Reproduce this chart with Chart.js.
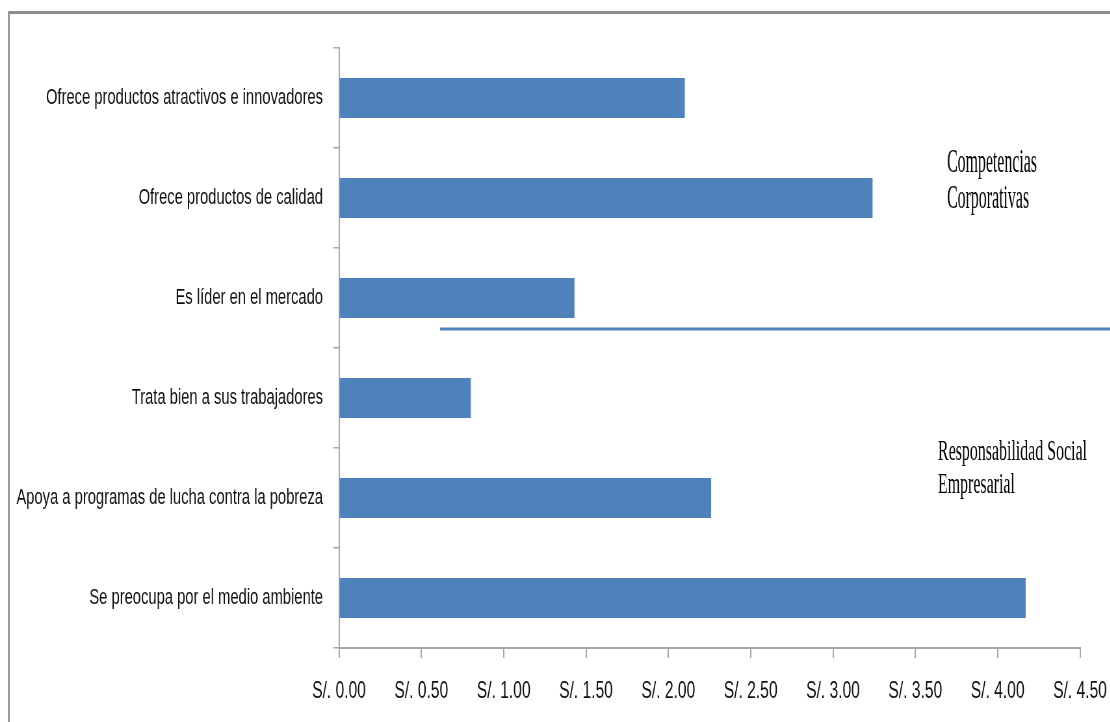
<!DOCTYPE html>
<html><head><meta charset="utf-8">
<script src="https://cdn.jsdelivr.net/npm/chart.js@4.4.1/dist/chart.umd.min.js"></script>
<style>
html,body{margin:0;padding:0;background:#fff;overflow:hidden;width:1110px;height:722px;}
#frame{position:absolute;left:8px;top:11px;width:1200px;height:800px;border-top:3px solid #8c8c8c;border-left:2px solid #9a9a9a;box-sizing:border-box;}
#wrap{position:absolute;left:0;top:0;height:722px;transform-origin:0 0;}
</style></head><body>
<div id="frame"></div>
<div id="wrap"><canvas id="c"></canvas></div>
<script>
// ---- data ----
const categories = [
  "Ofrece productos atractivos e innovadores",
  "Ofrece productos de calidad",
  "Es líder en el mercado",
  "Trata bien a sus trabajadores",
  "Apoya a programas de lucha contra la pobreza",
  "Se preocupa por el medio ambiente"
];
const values = [2.10, 3.24, 1.43, 0.80, 2.26, 4.17];
const xMin = 0, xMax = 4.5, xStep = 0.5;
const currencyPrefix = "S/. ";
const groupLabelTop = ["Competencias", "Corporativas"];
const groupLabelBottom = ["Responsabilidad Social", "Empresarial"];

// ---- layout (reference pixels) ----
const S = 0.65;                // horizontal squeeze of the whole picture
const AXIS_LEFT = 339, AXIS_RIGHT = 1080;
const EXTRA = 100;             // room on the right, clipped by the page
const W = Math.round(AXIS_RIGHT / S + EXTRA);
const wrap = document.getElementById('wrap');
wrap.style.width = W + 'px';
wrap.style.transform = 'scaleX(' + S + ')';

const annot = {
  id: 'annot',
  afterDraw(chart) {
    const ctx = chart.ctx, a = chart.chartArea;
    ctx.save();
    ctx.strokeStyle = '#4f81bd';
    ctx.lineWidth = 3;
    ctx.beginPath();
    const yLine = a.top + 281;
    ctx.moveTo(440 / S, yLine);
    ctx.lineTo(chart.width, yLine);
    ctx.stroke();
    ctx.restore();

    function block(lines, xRef, baseRef, gap, font, widthRef) {
      ctx.save();
      ctx.font = font;
      ctx.fillStyle = '#000';
      ctx.textBaseline = 'alphabetic';
      ctx.textAlign = 'left';
      const w = ctx.measureText(lines[0]).width;
      const k = (widthRef / S) / w;
      ctx.translate(xRef / S, 0);
      ctx.scale(k, 1);
      lines.forEach((t, i) => ctx.fillText(t, 0, baseRef + i * gap));
      ctx.restore();
    }
    block(groupLabelTop, 947, 172, 36, '33px "Liberation Serif"', 90);
    block(groupLabelBottom, 938, 460, 33, '29px "Liberation Serif"', 149);
  }
};

new Chart(document.getElementById('c'), {
  type: 'bar',
  data: {
    labels: categories,
    datasets: [{
      data: values,
      backgroundColor: '#4f81bd',
      borderWidth: 0,
      barPercentage: 0.5,
      categoryPercentage: 0.8
    }]
  },
  options: {
    indexAxis: 'y',
    responsive: true,
    maintainAspectRatio: false,
    animation: false,
    layout: { padding: { left: 10, top: 48, right: W - AXIS_RIGHT / S, bottom: 0 } },
    plugins: { legend: { display: false }, tooltip: { enabled: false } },
    scales: {
      x: {
        min: xMin, max: xMax,
        grid: { drawOnChartArea: false, drawTicks: true, tickLength: 10, color: '#a6a6a6', lineWidth: 2 },
        border: { color: '#a6a6a6', width: 2 },
        ticks: {
          stepSize: xStep,
          padding: 19,
          color: '#111',
          font: { family: 'Liberation Sans', size: 24 },
          maxRotation: 0,
          autoSkip: false,
          callback: v => currencyPrefix + Number(v).toFixed(2)
        },
        afterFit(s) { s.height = 74; }
      },
      y: {
        grid: { drawOnChartArea: false, drawTicks: true, tickLength: 9, color: '#a6a6a6', lineWidth: 1.5 },
        border: { color: '#a6a6a6', width: 2 },
        ticks: { color: '#111', padding: 16 / S - 9, font: { family: 'Liberation Sans', size: 22.7 } },
        afterFit(s) { s.width = AXIS_LEFT / S - 10; }
      }
    }
  },
  plugins: [annot]
});
</script>
</body></html>
